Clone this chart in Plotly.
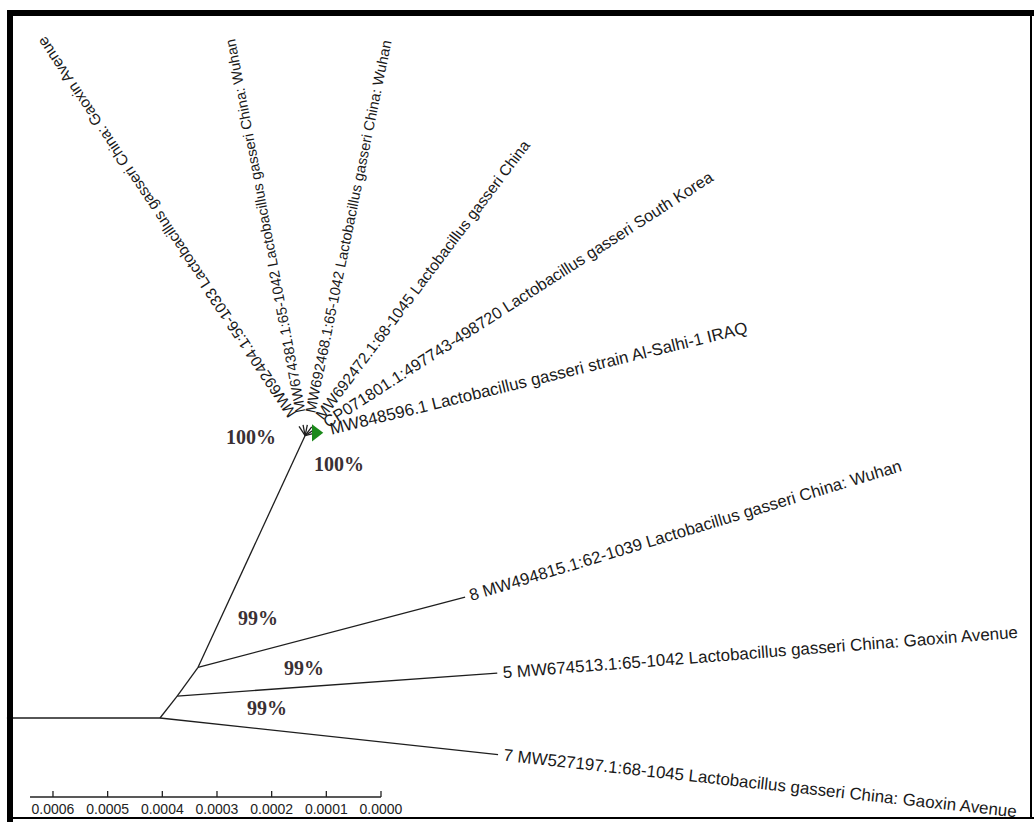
import math
import plotly.graph_objects as go

# ---- tree data -------------------------------------------------------------
# Each branch: child node, parent node, length (substitutions/site), direction (deg)
branch_child = ["A", "B", "H", "t7", "t5", "t8", "h1", "h2", "h3", "h4", "h5", "h6"]
branch_parent = ["R", "A", "B", "R", "A", "B", "H", "H", "H", "H", "H", "H"]
branch_length = [0.000051, 0.000065, 0.000467, 0.000622, 0.000587, 0.000505,
                 0.00002, 0.00002, 0.00002, 0.00002, 0.00002, 0.00002]
branch_angle = [52, 54, 65.2, -6.2, 4.1, 14.7, 124, 101, 78.5, 53, 32.5, 14]
root_stub = 0.00028

# Taxon labels (leaf, text, text direction in degrees, gap after tip in px)
leaf_ids = ["t7", "t5", "t8", "h1", "h2", "h3", "h4", "h5", "h6"]
leaf_text = [
    "7 MW527197.1:68-1045 Lactobacillus gasseri China: Gaoxin Avenue",
    "5 MW674513.1:65-1042 Lactobacillus gasseri China: Gaoxin Avenue",
    "8 MW494815.1:62-1039 Lactobacillus gasseri China: Wuhan",
    "MW692404.1:56-1033 Lactobacillus gasseri China: Gaoxin Avenue",
    "MW674381.1:65-1042 Lactobacillus gasseri China: Wuhan",
    "MW692468.1:65-1042 Lactobacillus gasseri China: Wuhan",
    "MW692472.1:68-1045 Lactobacillus gasseri China",
    "CP071801.1:497743-498720 Lactobacillus gasseri South Korea",
    "MW848596.1 Lactobacillus gasseri strain Al-Salhi-1 IRAQ",
]
leaf_text_angle = [-6.3, 4.5, 16.8, 123.7, 100.7, 78.4, 53.0, 32.7, 13.7]
leaf_gap = [5, 5, 5, 12, 12, 12, 12, 12, 14]

# Bootstrap support (node, value, offset in px from node)
boot_node = ["H", "H", "B", "A", "R"]
boot_value = ["100%", "100%", "99%", "99%", "99%"]
boot_offset = [(-54, 1), (34, 28), (60, -49), (127, -28), (107, -10)]

highlight_leaf = "h6"

# Scale bar (substitutions per site)
scale_ticks = [0.0006, 0.0005, 0.0004, 0.0003, 0.0002, 0.0001, 0.0]
scale_labels = ["0.0006", "0.0005", "0.0004", "0.0003", "0.0002", "0.0001", "0.0000"]
scale_extent = 0.000642

# ---- layout geometry -------------------------------------------------------
W, H_PX = 1034, 822
PPU = 546700.0            # pixels per substitution/site
ROOT_PX = (160, 718)      # where the root node sits on the page
BAR_PX = (381, 797)       # zero end of the scale bar

x_range = [-ROOT_PX[0] / PPU, (W - ROOT_PX[0]) / PPU]
y_range = [-(H_PX - ROOT_PX[1]) / PPU, ROOT_PX[1] / PPU]

# Arial / Liberation Sans advance widths (1/1000 em)
ARIAL = {" ": 278, ".": 278, ":": 278, "-": 333, "A": 667, "C": 722, "G": 778,
         "I": 278, "K": 667, "L": 556, "M": 833, "P": 667, "Q": 778, "R": 722,
         "S": 667, "W": 944, "a": 556, "b": 556, "c": 500, "e": 556, "g": 556,
         "h": 556, "i": 222, "l": 222, "n": 556, "o": 556, "r": 333, "s": 500,
         "t": 278, "u": 556, "v": 500, "x": 500, "y": 500}


def text_width(s, size):
    return sum(ARIAL.get(ch, 556) for ch in s) / 1000.0 * size


def label_size(angle):
    a = math.radians(angle)
    return 14.5 * math.hypot(1.17 * math.cos(a), math.sin(a))


# node positions in substitution units
pos = {"R": (0.0, 0.0)}
for c, p, L, ang in zip(branch_child, branch_parent, branch_length, branch_angle):
    px, py = pos[p]
    a = math.radians(ang)
    pos[c] = (px + L * math.cos(a), py + L * math.sin(a))

fig = go.Figure()

# branches
lx, ly = [pos["R"][0] - root_stub, pos["R"][0], None], [0.0, 0.0, None]
for c, p in zip(branch_child, branch_parent):
    lx += [pos[p][0], pos[c][0], None]
    ly += [pos[p][1], pos[c][1], None]
fig.add_trace(go.Scatter(x=lx, y=ly, mode="lines",
                         line=dict(color="#1e1e1e", width=1.3),
                         hoverinfo="skip", showlegend=False))

# highlighted isolate
fig.add_trace(go.Scatter(x=[pos[highlight_leaf][0]], y=[pos[highlight_leaf][1]],
                         mode="markers",
                         marker=dict(symbol="triangle-right", size=15, color="#1b8a1b"),
                         hoverinfo="skip", showlegend=False))

# scale bar in the same distance units as the branches (value grows leftwards)
bar_x0 = (BAR_PX[0] - ROOT_PX[0]) / PPU
bar_y = (ROOT_PX[1] - BAR_PX[1]) / PPU
tick_len = 6 / PPU
sx = [bar_x0 - scale_extent, bar_x0, None]
sy = [bar_y, bar_y, None]
for v in scale_ticks:
    sx += [bar_x0 - v, bar_x0 - v, None]
    sy += [bar_y, bar_y + tick_len, None]
fig.add_trace(go.Scatter(x=sx, y=sy, mode="lines",
                         line=dict(color="#222", width=1.3),
                         hoverinfo="skip", showlegend=False))
fig.add_trace(go.Scatter(x=[bar_x0 - v for v in scale_ticks],
                         y=[bar_y - 13 / PPU] * len(scale_ticks),
                         mode="text", text=scale_labels, textposition="middle center",
                         textfont=dict(family="Liberation Sans, Arial, sans-serif",
                                       size=14, color="#222"),
                         hoverinfo="skip", showlegend=False))

annotations = []
for leaf, txt, ang, gap in zip(leaf_ids, leaf_text, leaf_text_angle, leaf_gap):
    size = label_size(ang)
    w = text_width(txt, size)
    a = math.radians(ang)
    d = (gap + w / 2.0) / PPU
    cx = pos[leaf][0] + d * math.cos(a)
    cy = pos[leaf][1] + d * math.sin(a)
    annotations.append(dict(
        x=cx, y=cy, xref="x", yref="y", text=txt, showarrow=False,
        textangle=-ang, xanchor="center", yanchor="middle",
        font=dict(family="Liberation Sans, Arial, sans-serif", size=size, color="#1a1a1a")))

for node, val, (ox, oy) in zip(boot_node, boot_value, boot_offset):
    annotations.append(dict(
        x=pos[node][0] + ox / PPU, y=pos[node][1] - oy / PPU, xref="x", yref="y",
        text=val, showarrow=False, xanchor="center", yanchor="middle",
        font=dict(family="Liberation Serif, Times New Roman, serif", size=20,
                  color="#3a3034", weight="bold")))

# page frame
frame = [
    dict(x0=10 / W, x1=10 / W, y0=0, y1=1 - 10 / H_PX, w=6),
    dict(x0=7 / W, x1=1, y0=1 - 13 / H_PX, y1=1 - 13 / H_PX, w=6),
    dict(x0=1031 / W, x1=1031 / W, y0=1 - 13 / H_PX, y1=1 - 818 / H_PX, w=2),
    dict(x0=7 / W, x1=1, y0=1 - 818 / H_PX, y1=1 - 818 / H_PX, w=2),
]
shapes = [dict(type="line", xref="paper", yref="paper", x0=f["x0"], x1=f["x1"],
               y0=f["y0"], y1=f["y1"], line=dict(color="black", width=f["w"]))
          for f in frame]

fig.update_layout(
    width=W, height=H_PX, autosize=False,
    margin=dict(l=0, r=0, t=0, b=0, pad=0),
    paper_bgcolor="white", plot_bgcolor="white",
    xaxis=dict(range=x_range, visible=False, fixedrange=True),
    yaxis=dict(range=y_range, visible=False, fixedrange=True),
    annotations=annotations,
    shapes=shapes,
    showlegend=False,
)

fig.write_html("out.html", config={"displayModeBar": False})
